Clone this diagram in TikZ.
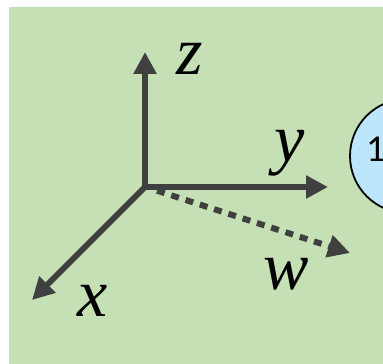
\documentclass[tikz,border=0pt]{standalone}
\usepackage{fontspec}
\setmainfont{Liberation Serif}
\newfontfamily\digitfont{Carlito}
\usetikzlibrary{arrows.meta}
\definecolor{bggreen}{HTML}{C5E0B4}
\definecolor{axisgray}{HTML}{404040}
\definecolor{ballblue}{HTML}{BEE6FA}
\tikzset{
  axisline/.style={draw=axisgray, line width=6pt, -{Triangle[length=22pt,width=22pt]}},
  dotline/.style={draw=axisgray, line width=6pt, dash pattern=on 8pt off 7pt, -{Triangle[length=22pt,width=22pt]}},
  axlabel/.style={inner sep=0pt, anchor=base west, font=\fontsize{68}{68}\selectfont\itshape},
  ball/.style={circle, draw=black, line width=1.8pt, fill=ballblue, minimum size=114pt, inner sep=0pt},
  balltext/.style={inner sep=0pt, anchor=base west, font=\digitfont\fontsize{38pt}{38pt}\selectfont}
}
\begin{document}
\begin{tikzpicture}[x=1pt,y=1pt]
\useasboundingbox (0,0) rectangle (383,364);
\clip (0,0) rectangle (383,364);
\fill[bggreen] (9,0) rectangle (383,357);
\coordinate (O) at (145,177);
\coordinate (Wstart) at (157,173.3);
\coordinate (Ztip) at (145,312);
\coordinate (Ytip) at (328,177);
\coordinate (Xtip) at (32,64);
\coordinate (Wtip) at (350,111);
\node[ball] (b1) at (407,208) {};
\node[balltext] (t1) at (366,202) {1};
\draw[axisline] (O) -- (Ztip);
\draw[axisline] (O) -- (Ytip);
\draw[axisline] (O) -- (Xtip);
\draw[dotline] (Wstart) -- (Wtip);
\node[axlabel] (lz) at (176,289) {z};
\node[axlabel] (ly) at (274,202) {y};
\node[axlabel] (lx) at (77,47) {x};
\node[axlabel] (lw) at (263,74) {w};
\end{tikzpicture}
\end{document}
